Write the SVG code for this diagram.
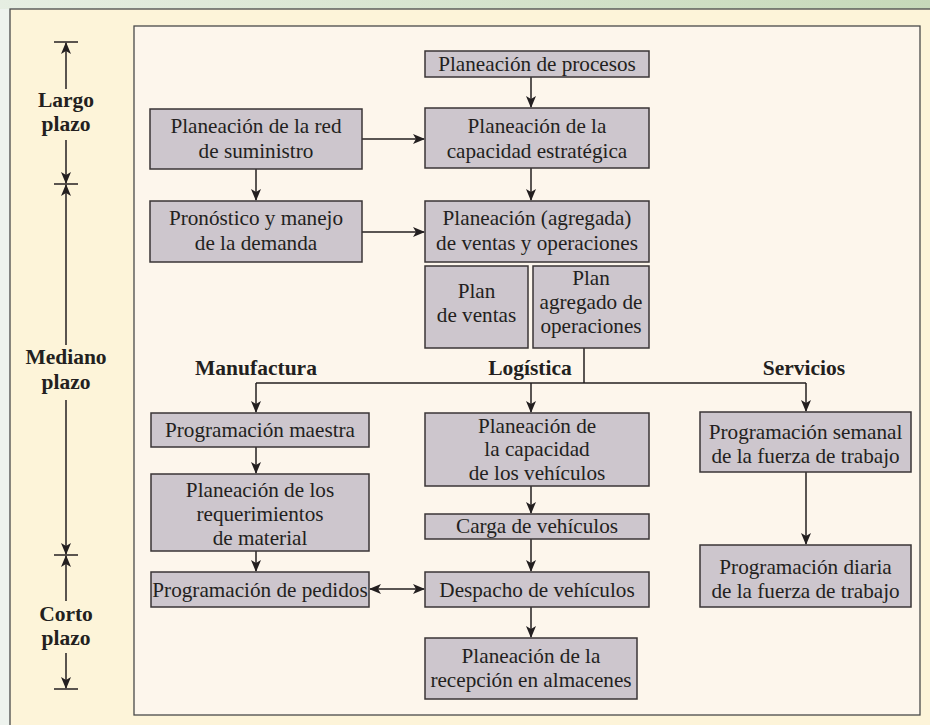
<svg xmlns="http://www.w3.org/2000/svg" width="930" height="725" viewBox="0 0 930 725">
<defs>
<linearGradient id="band" x1="0" y1="0" x2="1" y2="0">
<stop offset="0" stop-color="#e6eee2"/>
<stop offset="1" stop-color="#c6d9b9"/>
</linearGradient>
<marker id="ah" viewBox="0 0 12 10" refX="11" refY="5" markerWidth="12" markerHeight="10" markerUnits="userSpaceOnUse" orient="auto">
<path d="M0,0 L12,5 L0,10 L3,5 z" fill="#231f20"/>
</marker>
<marker id="as" viewBox="0 0 12 10" refX="1" refY="5" markerWidth="12" markerHeight="10" markerUnits="userSpaceOnUse" orient="auto">
<path d="M12,0 L0,5 L12,10 L9,5 z" fill="#231f20"/>
</marker>
</defs>
<style>
.box{fill:#cdc6cd;stroke:#3a3536;stroke-width:1.5}
.t{font-family:"Liberation Serif","Times New Roman",serif;font-size:21.2px;fill:#231f20;text-anchor:middle}
.b{font-family:"Liberation Serif","Times New Roman",serif;font-size:21.5px;font-weight:bold;fill:#231f20;text-anchor:middle}
.c{fill:none;stroke:#231f20;stroke-width:1.5}
.ca{fill:none;stroke:#231f20;stroke-width:1.5;marker-end:url(#ah)}
</style>
<rect x="0" y="0" width="930" height="725" fill="#eef3ee"/>
<rect x="0" y="0" width="930" height="9" fill="url(#band)"/>
<rect x="10" y="9" width="925" height="725" fill="#fdf4d9" stroke="#4a4a4a" stroke-width="1.3"/>
<rect x="134" y="26" width="786" height="689" fill="#fdf6ec" stroke="#4a4a4a" stroke-width="1.3"/>

<g id="timeline">
<line class="c" x1="54" y1="42" x2="78" y2="42"/>
<line class="ca" x1="66" y1="89" x2="66" y2="43"/>
<text class="b" x="66" y="107">Largo</text>
<text class="b" x="66" y="131">plazo</text>
<line class="ca" x1="66" y1="140" x2="66" y2="183"/>
<line class="c" x1="54" y1="184" x2="78" y2="184"/>
<line class="ca" x1="66" y1="345" x2="66" y2="185"/>
<text class="b" x="66" y="364">Mediano</text>
<text class="b" x="66" y="389">plazo</text>
<line class="ca" x1="66" y1="400" x2="66" y2="554"/>
<line class="c" x1="54" y1="555" x2="78" y2="555"/>
<line class="ca" x1="66" y1="601" x2="66" y2="556"/>
<text class="b" x="66" y="621">Corto</text>
<text class="b" x="66" y="645">plazo</text>
<line class="ca" x1="66" y1="653" x2="66" y2="688"/>
<line class="c" x1="54" y1="689" x2="78" y2="689"/>
</g>

<g id="labels">
<text class="b" x="256" y="375">Manufactura</text>
<text class="b" x="530" y="375">Logística</text>
<text class="b" x="804" y="375">Servicios</text>
</g>

<g id="connectors">
<line class="ca" x1="531" y1="77" x2="531" y2="107"/>
<line class="ca" x1="362" y1="139" x2="424" y2="139"/>
<line class="ca" x1="256" y1="169" x2="256" y2="200"/>
<line class="ca" x1="531" y1="168" x2="531" y2="200"/>
<line class="ca" x1="362" y1="232" x2="424" y2="232"/>
<polyline class="c" points="584,348 584,383"/>
<line class="c" x1="256" y1="383" x2="806" y2="383"/>
<line class="ca" x1="256" y1="383" x2="256" y2="412"/>
<line class="ca" x1="531" y1="383" x2="531" y2="412"/>
<line class="ca" x1="806" y1="383" x2="806" y2="411"/>
<line class="ca" x1="256" y1="447" x2="256" y2="473"/>
<line class="ca" x1="256" y1="551" x2="256" y2="571"/>
<line class="ca" x1="531" y1="486" x2="531" y2="513"/>
<line class="ca" x1="531" y1="539" x2="531" y2="571"/>
<line class="ca" x1="531" y1="607" x2="531" y2="637"/>
<line class="ca" x1="806" y1="472" x2="806" y2="544"/>
<line fill="none" stroke="#231f20" stroke-width="1.5" marker-start="url(#as)" marker-end="url(#ah)" x1="370" y1="589" x2="424" y2="589"/>
</g>

<g id="procesos"><rect class="box" x="425" y="51" width="224" height="26"/><text class="t" x="537" y="71">Planeación de procesos</text></g>
<g id="red"><rect class="box" x="150" y="109" width="212" height="60"/><text class="t" x="256" y="133">Planeación de la red</text><text class="t" x="256" y="158">de suministro</text></g>
<g id="capacidad"><rect class="box" x="425" y="108" width="224" height="60"/><text class="t" x="537" y="133">Planeación de la</text><text class="t" x="537" y="158">capacidad estratégica</text></g>
<g id="pronostico"><rect class="box" x="150" y="201" width="212" height="61"/><text class="t" x="256" y="225">Pronóstico y manejo</text><text class="t" x="256" y="250">de la demanda</text></g>
<g id="agregada"><rect class="box" x="425" y="201" width="224" height="61"/><text class="t" x="537" y="225">Planeación (agregada)</text><text class="t" x="537" y="250">de ventas y operaciones</text></g>
<g id="ventas"><rect class="box" x="425" y="266" width="103" height="82"/><text class="t" x="476.5" y="298">Plan</text><text class="t" x="476.5" y="322">de ventas</text></g>
<g id="operaciones"><rect class="box" x="533" y="266" width="116" height="82"/><text class="t" x="591" y="285">Plan</text><text class="t" x="591" y="309">agregado de</text><text class="t" x="591" y="333">operaciones</text></g>
<g id="maestra"><rect class="box" x="151" y="413" width="218" height="34"/><text class="t" x="260" y="437">Programación maestra</text></g>
<g id="requerimientos"><rect class="box" x="151" y="474" width="218" height="77"/><text class="t" x="260" y="497">Planeación de los</text><text class="t" x="260" y="521">requerimientos</text><text class="t" x="260" y="545">de material</text></g>
<g id="pedidos"><rect class="box" x="151" y="572" width="218" height="35"/><text class="t" x="260" y="597">Programación de pedidos</text></g>
<g id="vehiculos"><rect class="box" x="425" y="413" width="224" height="73"/><text class="t" x="537" y="433">Planeación de</text><text class="t" x="537" y="456">la capacidad</text><text class="t" x="537" y="480">de los vehículos</text></g>
<g id="carga"><rect class="box" x="425" y="514" width="224" height="25"/><text class="t" x="537" y="533">Carga de vehículos</text></g>
<g id="despacho"><rect class="box" x="425" y="572" width="224" height="35"/><text class="t" x="537" y="597">Despacho de vehículos</text></g>
<g id="recepcion"><rect class="box" x="425" y="638" width="212" height="61"/><text class="t" x="531" y="663">Planeación de la</text><text class="t" x="531" y="687">recepción en almacenes</text></g>
<g id="semanal"><rect class="box" x="700" y="412" width="211" height="60"/><text class="t" x="805.5" y="439">Programación semanal</text><text class="t" x="805.5" y="463">de la fuerza de trabajo</text></g>
<g id="diaria"><rect class="box" x="700" y="545" width="211" height="62"/><text class="t" x="805.5" y="574">Programación diaria</text><text class="t" x="805.5" y="598">de la fuerza de trabajo</text></g>
</svg>
